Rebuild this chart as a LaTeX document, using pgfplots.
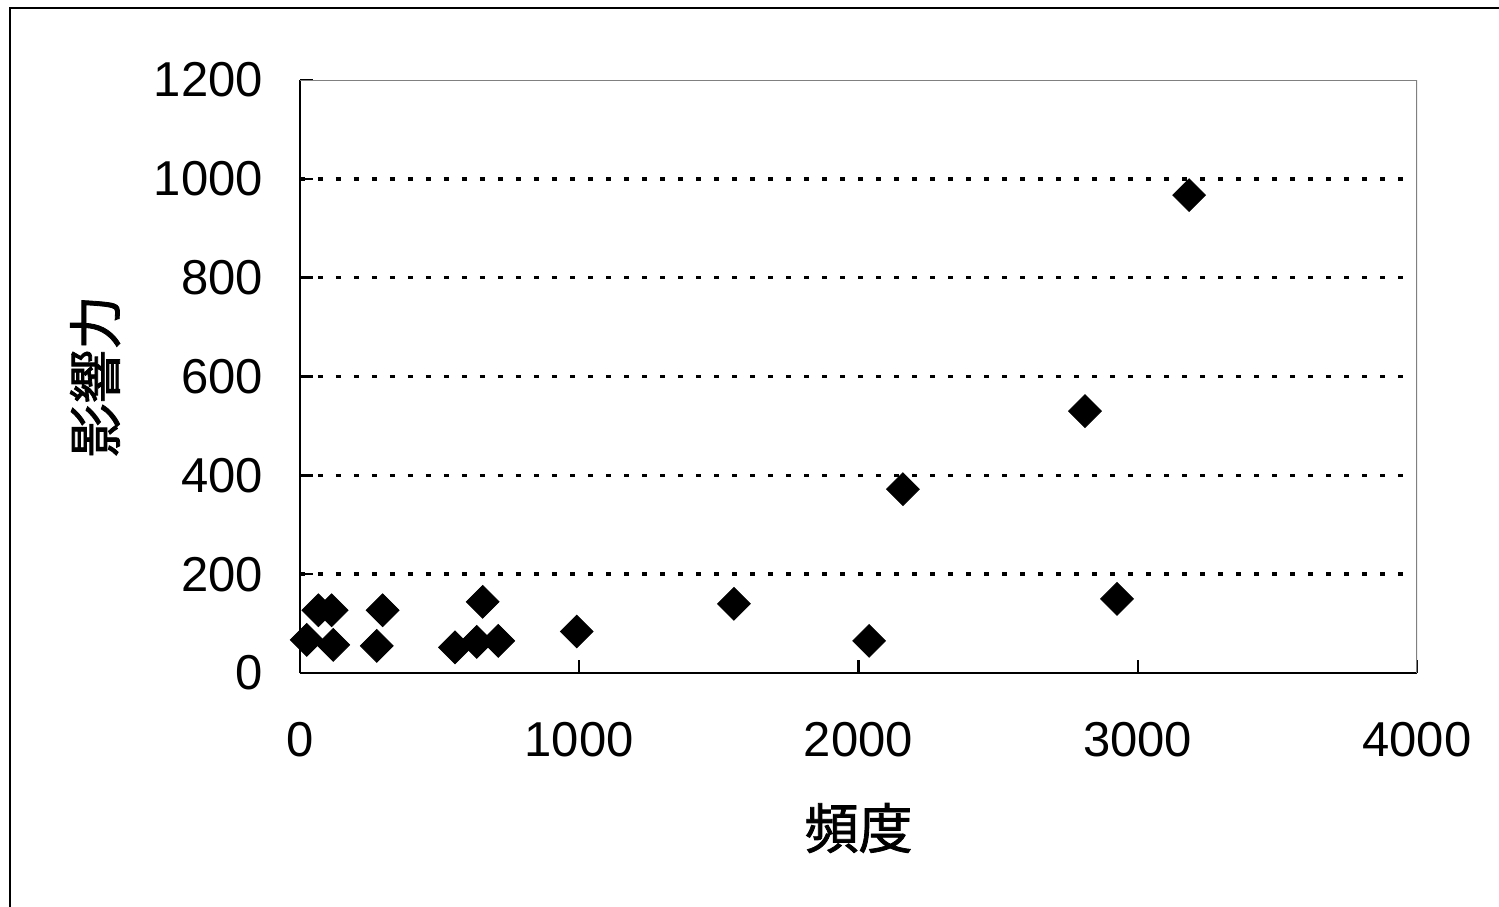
\documentclass[border=0pt]{standalone}
\usepackage{fontspec}
\setmainfont{Liberation Sans}
\newfontfamily\jp[FakeBold=1.5]{Noto Sans CJK JP}
\usepackage{pgfplots}
\pgfplotsset{compat=1.18}

\pgfplotstableread{
x y
24 67
66 127
113 127
119 57
275 55
296 127
555 52
633 63
654 144
710 65
991 84
1554 140
2038 65
2159 372
2811 530
2926 150
3184 967
}\pts

\begin{document}
\begin{tikzpicture}
\useasboundingbox (-150pt,-116.5pt) rectangle (599.5pt,336.5pt);
\draw[line width=1.2pt] (-145pt,-200pt) -- (-145pt,332.5pt) -- (700pt,332.5pt);
\begin{axis}[
    scale only axis,
    width=558.5pt, height=296.5pt,
    xmin=0, xmax=4000, ymin=0, ymax=1200,
    xtick={0,1000,2000,3000,4000},
    ytick={200,400,...,1000},
    extra y ticks={0,1200},
    extra y tick style={grid=none},
    axis x line*=bottom, axis y line*=left,
    axis line style={-, black, line width=1.4pt},
    tick align=inside,
    major tick length=6.5pt,
    tick style={black, line width=1.2pt},
    ymajorgrids,
    major grid style={black, line width=1.7pt, dash pattern=on 2.5pt off 6.5pt},
    font=\fontsize{24.5}{29}\selectfont,
    /pgf/number format/assume math mode=true,
    /pgf/number format/1000 sep={},
    xticklabel style={yshift=-21pt},
    yticklabel style={xshift=-15pt},
    xlabel={\fontsize{27}{32}\selectfont\jp 頻度},
    ylabel={\fontsize{27}{32}\selectfont\jp 影響力},
    xlabel style={at={(axis description cs:0.5,-0.2614)}, anchor=center},
    ylabel style={at={(axis description cs:-0.1835,0.5)}, anchor=center},
]
\draw[gray, line width=1pt] (rel axis cs:0,1) -- (rel axis cs:1,1) -- (rel axis cs:1,0);
\addplot[only marks, mark=square*, mark size=5.8pt, mark options={rotate=45, fill=black, draw=black}] table[x=x, y=y] {\pts};
\end{axis}
\end{tikzpicture}
\end{document}
